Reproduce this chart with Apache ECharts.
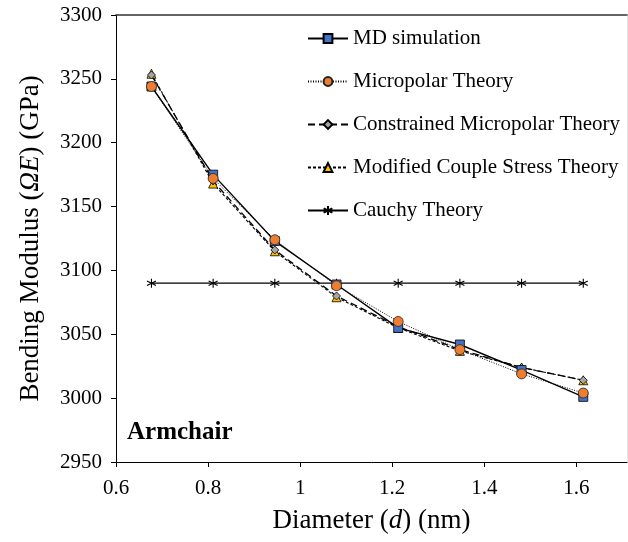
<!DOCTYPE html>
<html>
<head>
<meta charset="utf-8">
<script src="https://cdn.jsdelivr.net/npm/echarts@6/dist/echarts.min.js"></script>
<style>
html,body{margin:0;padding:0;background:#fff;}
#chart{width:628px;height:542px;}
</style>
</head>
<body>
<div id="chart"></div>
<script>
const diameters = [0.677, 0.811, 0.945, 1.079, 1.213, 1.347, 1.481, 1.615];
const mdSimulation = [3244, 3175, 3123, 3089, 3055, 3042, 3022, 3001];
const micropolar = [3244, 3172, 3124, 3088, 3060, 3038, 3019, 3004];
const constrainedMicropolar = [3253, 3170, 3116, 3080, 3056, 3038, 3024, 3014];
const modifiedCoupleStress = [3254, 3168, 3115, 3079, 3055, 3037, 3024, 3014];
const cauchy = [3090, 3090, 3090, 3090, 3090, 3090, 3090, 3090];
const xTicks = [0.6, 0.8, 1, 1.2, 1.4, 1.6];
const yTicks = [2950, 3000, 3050, 3100, 3150, 3200, 3250, 3300];
const seriesNames = ['MD simulation', 'Micropolar Theory', 'Constrained Micropolar Theory', 'Modified Couple Stress Theory', 'Cauchy Theory'];

function pairs(vals) { return diameters.map((d, i) => [d, vals[i]]); }

const FONT = '"Liberation Serif","Times New Roman",serif';
const chart = echarts.init(document.getElementById('chart'));
const starPath = 'path://M5,0L5,10M0.7,2.5L9.3,7.5M9.3,2.5L0.7,7.5';

const option = {
  animation: false,
  backgroundColor: '#fff',
  textStyle: { fontFamily: FONT },
  grid: { left: 116, right: 1, top: 15, bottom: 80, containLabel: false },
  xAxis: [{
    type: 'value', min: 0.6, max: 1.71, interval: 0.2,
    name: '{n|Diameter (}{i|d}{n|) (nm)}',
    nameLocation: 'middle', nameGap: 45,
    nameTextStyle: { rich: {
      n: { fontFamily: FONT, fontSize: 27, color: '#000' },
      i: { fontFamily: FONT, fontSize: 27, color: '#000', fontStyle: 'italic' } } },
    axisLine: { show: true, lineStyle: { color: '#000', width: 1 } },
    axisTick: { show: true, length: 5, lineStyle: { color: '#000' }, customValues: xTicks },
    axisLabel: { color: '#000', fontFamily: FONT, fontSize: 21, margin: 16,
      customValues: xTicks,
      formatter: v => String(Math.round(v * 10) / 10) },
    splitLine: { show: false }
  }, {
    type: 'value', position: 'top', min: 0.6, max: 1.71,
    axisLine: { show: true, lineStyle: { color: '#333', width: 1.5 } },
    axisTick: { show: false }, axisLabel: { show: false }, splitLine: { show: false }
  }],
  yAxis: [{
    type: 'value', min: 2950, max: 3300, interval: 50,
    name: '{n|Bending Modulus (}{i|ΩE}{n|) (GPa)}',
    nameLocation: 'middle', nameGap: 72,
    nameTextStyle: { rich: {
      n: { fontFamily: FONT, fontSize: 27, color: '#000' },
      i: { fontFamily: FONT, fontSize: 27, color: '#000', fontStyle: 'italic' } } },
    axisLine: { show: true, lineStyle: { color: '#000', width: 1 } },
    axisTick: { show: true, length: 5, lineStyle: { color: '#000' }, customValues: yTicks },
    axisLabel: { color: '#000', fontFamily: FONT, fontSize: 21, margin: 14,
      customValues: yTicks, formatter: v => String(v) },
    splitLine: { show: false }
  }, {
    type: 'value', position: 'right', min: 2950, max: 3300,
    axisLine: { show: true, lineStyle: { color: '#e6e6e6', width: 1 } },
    axisTick: { show: false }, axisLabel: { show: false }, splitLine: { show: false }
  }],
  legend: {
    orient: 'vertical', left: 302, top: 23, itemGap: 22,
    itemWidth: 40, itemHeight: 11,
    textStyle: { fontFamily: FONT, fontSize: 21, color: '#000' },
    data: seriesNames
  },
  graphic: [{
    type: 'text', left: 127, top: 420,
    style: { text: 'Armchair', font: 'bold 25px "Liberation Serif", serif', fill: '#000' }
  }],
  series: [
    { name: seriesNames[4], type: 'line', data: pairs(cauchy), z: 2,
      symbol: starPath, symbolSize: 9,
      lineStyle: { color: '#000', width: 1.3, type: 'solid' },
      itemStyle: { color: 'rgba(0,0,0,0)', borderColor: '#000', borderWidth: 1.1 } },
    { name: seriesNames[3], type: 'line', data: pairs(modifiedCoupleStress), z: 3,
      symbol: 'triangle', symbolSize: 9,
      lineStyle: { color: '#000', width: 1.1, type: [3, 2] },
      itemStyle: { color: '#FFC000', borderColor: '#000', borderWidth: 0.8 } },
    { name: seriesNames[2], type: 'line', data: pairs(constrainedMicropolar), z: 3,
      symbol: 'diamond', symbolSize: 8,
      lineStyle: { color: '#000', width: 1.3, type: [7, 4] },
      itemStyle: { color: '#A5A5A5', borderColor: '#000', borderWidth: 0.8 } },
    { name: seriesNames[1], type: 'line', data: pairs(micropolar), z: 5,
      symbol: 'circle', symbolSize: 10,
      lineStyle: { color: '#000', width: 1, type: [1, 1.5] },
      itemStyle: { color: '#ED7D31', borderColor: '#222', borderWidth: 0.8 } },
    { name: seriesNames[0], type: 'line', data: pairs(mdSimulation), z: 4,
      symbol: 'rect', symbolSize: 9,
      lineStyle: { color: '#000', width: 1.4, type: 'solid' },
      itemStyle: { color: '#4472C4', borderColor: '#000', borderWidth: 0.8 } }
  ]
};
chart.setOption(option);
</script>
</body>
</html>
